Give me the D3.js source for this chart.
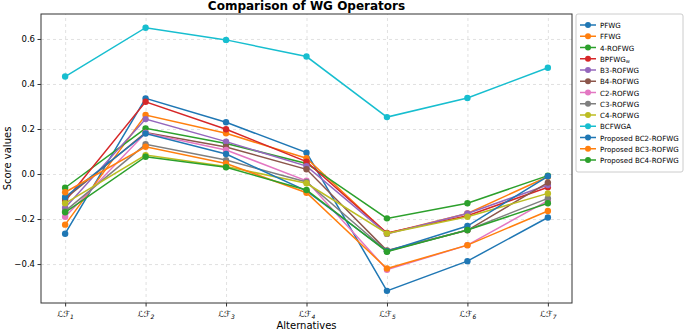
<!DOCTYPE html>
<html>
<head>
    <script src="https://cdn.jsdelivr.net/npm/d3@7"></script>
</head>

<style>
    body { margin: 0; background: #fff; }
    text { font-family: "DejaVu Sans", sans-serif; fill: #000; }
    .grid line { stroke: #d9d9d9; stroke-dasharray: 3, 3; stroke-width: 0.8px; }
    .series { fill: none; stroke-width: 1.5px; }
</style>

<body>
<div id="chart"></div>

<script>

    var alternatives = [1, 2, 3, 4, 5, 6, 7];
    var seriesNames = ['PFWG', 'FFWG', '4-ROFWG', 'BPFWG', 'B3-ROFWG', 'B4-ROFWG', 'C2-ROFWG',
        'C3-ROFWG', 'C4-ROFWG', 'BCFWGA', 'Proposed BC2-ROFWG', 'Proposed BC3-ROFWG', 'Proposed BC4-ROFWG'];
    var colors = ['#1f77b4', '#ff7f0e', '#2ca02c', '#d62728', '#9467bd', '#8c564b', '#e377c2',
        '#7f7f7f', '#bcbd22', '#17becf', '#1f77b4', '#ff7f0e', '#2ca02c'];

    var pfwg    = [-0.265, 0.336, 0.230, 0.095, -0.519, -0.387, -0.193];
    var ffwg    = [-0.225, 0.262, 0.181, 0.070, -0.264, -0.175, -0.012];
    var rofwg4  = [-0.061, 0.203, 0.136, 0.047, -0.197, -0.130, -0.007];
    var bpfwg   = [-0.120, 0.321, 0.199, 0.055, -0.262, -0.185, -0.059];
    var b3      = [-0.150, 0.244, 0.144, 0.035, -0.266, -0.175, -0.049];
    var b4      = [-0.110, 0.184, 0.120, 0.021, -0.340, -0.250, -0.038];
    var c2      = [-0.190, 0.182, 0.107, -0.030, -0.425, -0.316, -0.118];
    var c3      = [-0.165, 0.132, 0.062, -0.035, -0.343, -0.249, -0.108];
    var c4      = [-0.130, 0.084, 0.033, -0.041, -0.264, -0.190, -0.086];
    var bcfwga  = [0.433, 0.650, 0.596, 0.522, 0.253, 0.338, 0.472];
    var bc2     = [-0.102, 0.180, 0.089, -0.075, -0.343, -0.231, -0.010];
    var bc3     = [-0.081, 0.121, 0.047, -0.083, -0.420, -0.316, -0.164];
    var bc4     = [-0.170, 0.077, 0.030, -0.071, -0.345, -0.249, -0.130];

    var allValues = [pfwg, ffwg, rofwg4, bpfwg, b3, b4, c2, c3, c4, bcfwga, bc2, bc3, bc4];
    var yTicks = [-0.4, -0.2, 0.0, 0.2, 0.4, 0.6];

    var width = 685, height = 332;
    var plot = { left: 41, right: 572, top: 14, bottom: 303 };

    var xScale = d3.scaleLinear()
        .domain([0.7, 7.3])
        .range([plot.left, plot.right]);

    var yScale = d3.scaleLinear()
        .domain([-0.573, 0.711])
        .range([plot.bottom, plot.top]);

    var svg = d3.select('#chart').append('svg')
        .attr('width', width)
        .attr('height', height);

    // grid
    svg.append('g')
        .attr('class', 'grid')
        .attr('transform', 'translate(0,' + plot.bottom + ')')
        .call(d3.axisBottom(xScale).tickValues(alternatives).tickSize(-(plot.bottom - plot.top)).tickFormat(''))
        .call(function(g) { g.select('.domain').remove(); });

    svg.append('g')
        .attr('class', 'grid')
        .attr('transform', 'translate(' + plot.left + ',0)')
        .call(d3.axisLeft(yScale).tickValues(yTicks).tickSize(-(plot.right - plot.left)).tickFormat(''))
        .call(function(g) { g.select('.domain').remove(); });

    // lines + markers
    var pen = d3.line()
        .x(function(d, i) { return xScale(alternatives[i]); })
        .y(function(d) { return yScale(d); });

    allValues.forEach(function(vals, k) {
        svg.append('path')
            .datum(vals)
            .attr('class', 'series')
            .attr('stroke', colors[k])
            .attr('d', pen);
        svg.selectAll('circle.s' + k)
            .data(vals)
            .enter()
            .append('circle')
            .attr('class', 's' + k)
            .attr('cx', function(d, i) { return xScale(alternatives[i]); })
            .attr('cy', function(d) { return yScale(d); })
            .attr('r', 3.2)
            .attr('fill', colors[k]);
    });

    // frame
    svg.append('rect')
        .attr('x', plot.left).attr('y', plot.top)
        .attr('width', plot.right - plot.left).attr('height', plot.bottom - plot.top)
        .attr('fill', 'none').attr('stroke', '#333').attr('stroke-width', 1);

    // axes
    var xAxis = svg.append('g')
        .attr('transform', 'translate(0,' + plot.bottom + ')')
        .call(d3.axisBottom(xScale).tickValues(alternatives).tickSize(3.5).tickFormat(''));
    xAxis.select('.domain').remove();
    xAxis.selectAll('.tick').append('text')
        .attr('y', 14)
        .attr('text-anchor', 'middle')
        .style('font-size', '8.5px')
        .style('font-style', 'italic')
        .each(function(d) {
            var t = d3.select(this);
            t.append('tspan').text('ℒℱ');
            t.append('tspan').attr('dy', 2).style('font-size', '6px').text(d);
        });

    var yAxis = svg.append('g')
        .attr('transform', 'translate(' + plot.left + ',0)')
        .call(d3.axisLeft(yScale).tickValues(yTicks).tickSize(3.5)
            .tickFormat(function(d) { return d3.format('.1f')(d).replace('-', '−'); }));
    yAxis.select('.domain').remove();
    yAxis.selectAll('text').style('font-size', '8.5px').attr('x', -6);
    svg.selectAll('.tick line').attr('stroke', '#333');
    svg.selectAll('.grid .tick line').attr('stroke', null);

    // titles
    svg.append('text')
        .attr('x', (plot.left + plot.right) / 2)
        .attr('y', 10)
        .attr('text-anchor', 'middle')
        .style('font-size', '12px')
        .style('font-weight', 'bold')
        .text('Comparison of WG Operators');

    svg.append('text')
        .attr('x', (plot.left + plot.right) / 2)
        .attr('y', 329)
        .attr('text-anchor', 'middle')
        .style('font-size', '10px')
        .text('Alternatives');

    svg.append('text')
        .attr('transform', 'translate(11,' + (plot.top + plot.bottom) / 2 + ') rotate(-90)')
        .attr('text-anchor', 'middle')
        .style('font-size', '10px')
        .text('Score values');

    // legend
    var legend = svg.append('g').attr('transform', 'translate(576,14)');
    legend.append('rect')
        .attr('width', 107).attr('height', 158)
        .attr('rx', 2)
        .attr('fill', '#fff').attr('stroke', '#ccc');

    var item = legend.selectAll('g.item')
        .data(seriesNames)
        .enter()
        .append('g')
        .attr('class', 'item')
        .attr('transform', function(d, i) { return 'translate(0,' + (11 + i * 11.25) + ')'; });

    item.append('line')
        .attr('x1', 4).attr('x2', 20)
        .attr('stroke', function(d, i) { return colors[i]; })
        .attr('stroke-width', 1.5);
    item.append('circle')
        .attr('cx', 12).attr('r', 3)
        .attr('fill', function(d, i) { return colors[i]; });
    item.append('text')
        .attr('x', 24).attr('y', 3)
        .style('font-size', '7.1px')
        .each(function(d) {
            var t = d3.select(this);
            t.append('tspan').text(d);
            if (d === 'BPFWG') t.append('tspan').attr('dy', 1.5).style('font-size', '5px').text('w');
        });

</script>
</body>
</html>
